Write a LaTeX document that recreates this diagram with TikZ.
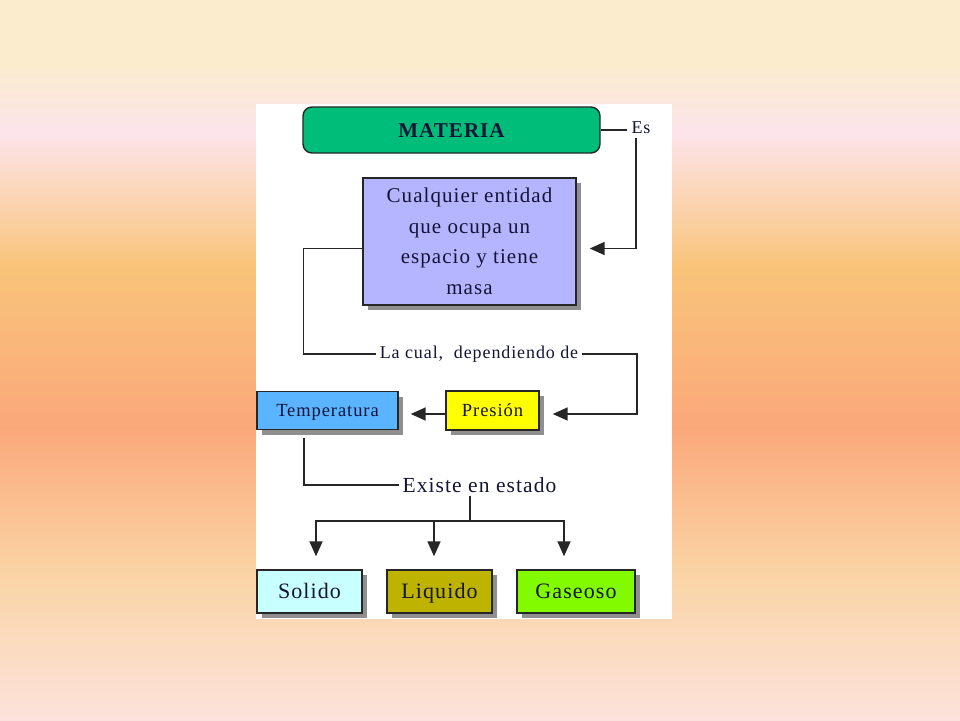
\documentclass[tikz,border=0pt]{standalone}
\usepackage{fontspec}
\setmainfont[LetterSpace=5]{Liberation Serif}
\usetikzlibrary{arrows.meta,shadows}

\definecolor{bgA}{RGB}{251,236,205}
\definecolor{bgB}{RGB}{252,228,235}
\definecolor{bgC}{RGB}{249,196,122}
\definecolor{bgD}{RGB}{250,168,122}
\definecolor{bgE}{RGB}{250,212,165}
\definecolor{bgF}{RGB}{252,226,220}
\definecolor{matgreen}{RGB}{0,190,122}
\definecolor{lavender}{RGB}{180,180,255}
\definecolor{tempblue}{RGB}{90,180,255}
\definecolor{presyellow}{RGB}{255,255,0}
\definecolor{solcyan}{RGB}{200,255,255}
\definecolor{liqolive}{RGB}{190,180,0}
\definecolor{gasgreen}{RGB}{130,250,0}
\definecolor{ink}{RGB}{20,20,55}

\tikzset{
  box/.style={draw=black!85, line width=1.4pt, inner sep=0pt, align=center, text=ink},
  shadowbox/.style={box, drop shadow={shadow xshift=5pt,shadow yshift=-5pt,fill=black!55,opacity=.8}},
  onebox/.style={shadowbox, text height=#1, text depth=0pt},
  link/.style={draw=black!85, line width=1.6pt},
  linkarrow/.style={link, -{Triangle[length=15pt,width=13pt]}},
  label/.style={text=ink, inner sep=4pt},
}

\begin{document}
\begin{tikzpicture}[x=1pt,y=-1pt]
\useasboundingbox (0,0) rectangle (960,720);

% background
\fill[bgA] (0,0) rectangle (960,61);
\shade[top color=bgA,bottom color=bgB] (0,60) rectangle (960,134);
\shade[top color=bgB,bottom color=bgC] (0,133) rectangle (960,267);
\shade[top color=bgC,bottom color=bgD] (0,266) rectangle (960,428);
\shade[top color=bgD,bottom color=bgE] (0,427) rectangle (960,574);
\shade[top color=bgE,bottom color=bgF] (0,573) rectangle (960,720);
\fill[white] (256,104) rectangle (672,619);

\node[box,fill=matgreen,rounded corners=9pt,minimum width=297pt,minimum height=46pt,
      text height=14pt,text depth=0pt,
      font=\fontsize{21}{24}\selectfont\bfseries] (materia) at (451.5,130) {MATERIA};
\node[label,font=\fontsize{18}{21}\selectfont] (es) at (641,128) {Es};
\node[shadowbox,fill=lavender,minimum width=213pt,minimum height=127pt,
      font=\fontsize{21}{30.5}\selectfont] (cual) at (469.5,241.5)
      {Cualquier entidad\\que ocupa un\\espacio y tiene\\masa};
\node[label,font=\fontsize{18}{21}\selectfont] (lacual) at (479,354) {La cual,~ dependiendo de};
\node[onebox=12.2pt,fill=presyellow,minimum width=93pt,minimum height=39pt,
      font=\fontsize{18.5}{21}\selectfont] (presion) at (492.5,410.5) {Presión};
\node[onebox=12.2pt,fill=tempblue,minimum width=141pt,minimum height=38pt,
      font=\fontsize{18.5}{21}\selectfont] (temp) at (327.5,410.5) {Temperatura};
\node[label,inner sep=3pt,font=\fontsize{21.5}{25}\selectfont] (existe) at (479.5,485) {Existe en estado};
\node[onebox=14.5pt,fill=solcyan,minimum width=105pt,minimum height=43pt,
      font=\fontsize{22}{25}\selectfont] (solido) at (309.5,591.5) {Solido};
\node[onebox=14.5pt,fill=liqolive,minimum width=105pt,minimum height=43pt,
      font=\fontsize{22}{25}\selectfont] (liquido) at (439.5,591.5) {Liquido};
\node[onebox=14.5pt,fill=gasgreen,minimum width=118pt,minimum height=43pt,
      font=\fontsize{22}{25}\selectfont] (gaseoso) at (576,591.5) {Gaseoso};

\coordinate (split) at (470,521);

\draw[link] (materia.east) -- (materia.east -| es.west);
\draw[linkarrow] (es.south) ++(-5,0) |- ([xshift=13pt,yshift=-7pt]cual.east);
\draw[link] ([yshift=-7pt]cual.west) -- ++(-59,0) |- (lacual.west);
\draw[linkarrow] (lacual.east) -| ([xshift=97pt,yshift=-3.5pt]presion.east)
                 -- ([xshift=13pt,yshift=-3.5pt]presion.east);
\draw[linkarrow] ([yshift=-3.5pt]presion.west) -- ([xshift=12pt,yshift=-3.5pt]temp.east);
\draw[link] ([xshift=-23.5pt]temp.south) ++(0,8) |- (existe.west);
\draw[link] (existe.south -| split) -- (split);
\draw[linkarrow] (split) -| ([xshift=6.5pt,yshift=13pt]solido.north);
\draw[linkarrow] (split) -| ([xshift=-12pt,yshift=13pt]gaseoso.north);
\draw[linkarrow] (split -| liquido.north) ++(-5.5,0) -- ([xshift=-5.5pt,yshift=13pt]liquido.north);
\end{tikzpicture}
\end{document}
